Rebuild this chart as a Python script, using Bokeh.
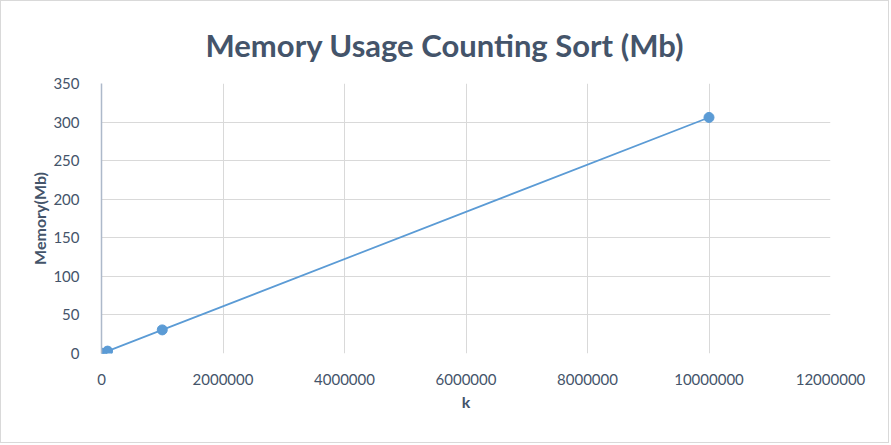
from bokeh.plotting import figure
from bokeh.models import FixedTicker, BasicTickFormatter, Range1d
from bokeh.embed import file_html
from bokeh.resources import INLINE

k_values = [1000, 10000, 100000, 1000000, 10000000]
memory_mb = [0.03, 0.31, 3.1, 30.6, 306.0]
x_ticks = [0, 2000000, 4000000, 6000000, 8000000, 10000000, 12000000]
y_ticks = [0, 50, 100, 150, 200, 250, 300, 350]

TXT = "#44546A"
FONT = "Lato"

p = figure(width=889, height=443, output_backend="svg", toolbar_location=None,
           x_range=Range1d(0, 12000000), y_range=Range1d(0, 350),
           title="Memory Usage Counting Sort (Mb)")
p.styles = {"border": "1px solid #D9D9D9"}
p.min_border_left = 100
p.min_border_right = 60
p.min_border_top = 82
p.min_border_bottom = 91
p.outline_line_color = None

p.title.align = "left"
p.title.text_font = FONT
p.title.text_font_size = "31px"
p.title.text_font_style = "bold"
p.title.text_color = TXT
p.title.offset = 104
p.title.standoff = 40

for ax in (p.xaxis[0], p.yaxis[0]):
    ax.axis_line_color = None
    ax.major_tick_line_color = None
    ax.minor_tick_line_color = None
    ax.major_label_text_font = FONT
    ax.major_label_text_color = TXT
    ax.axis_label_text_font = FONT
    ax.axis_label_text_font_size = "16px"
    ax.axis_label_text_font_style = "bold"
    ax.axis_label_text_color = TXT

p.yaxis.axis_line_color = "#ADB9CA"
p.yaxis.axis_line_width = 1.5
p.xaxis.major_label_text_font_size = "15px"
p.yaxis.major_label_text_font_size = "15px"
p.xaxis.ticker = FixedTicker(ticks=x_ticks)
p.yaxis.ticker = FixedTicker(ticks=y_ticks)
p.xaxis.formatter = BasicTickFormatter(use_scientific=False)
p.xaxis.axis_label = "k"
p.yaxis.axis_label = "Memory(Mb)"
p.xaxis.major_label_standoff = 14
p.yaxis.major_label_standoff = 16
p.xaxis.axis_label_standoff = 4
p.yaxis.axis_label_standoff = 1

p.xgrid.grid_line_color = "#D9D9D9"
p.ygrid.grid_line_color = "#D9D9D9"
p.xgrid.ticker = FixedTicker(ticks=x_ticks)
p.ygrid.ticker = FixedTicker(ticks=y_ticks)

p.line(k_values, memory_mb, line_color="#5B9BD5", line_width=1.75)
p.scatter(k_values, memory_mb, size=10, fill_color="#5B9BD5", line_color="#5B9BD5")

open("out.html", "w").write(file_html(p, INLINE))
